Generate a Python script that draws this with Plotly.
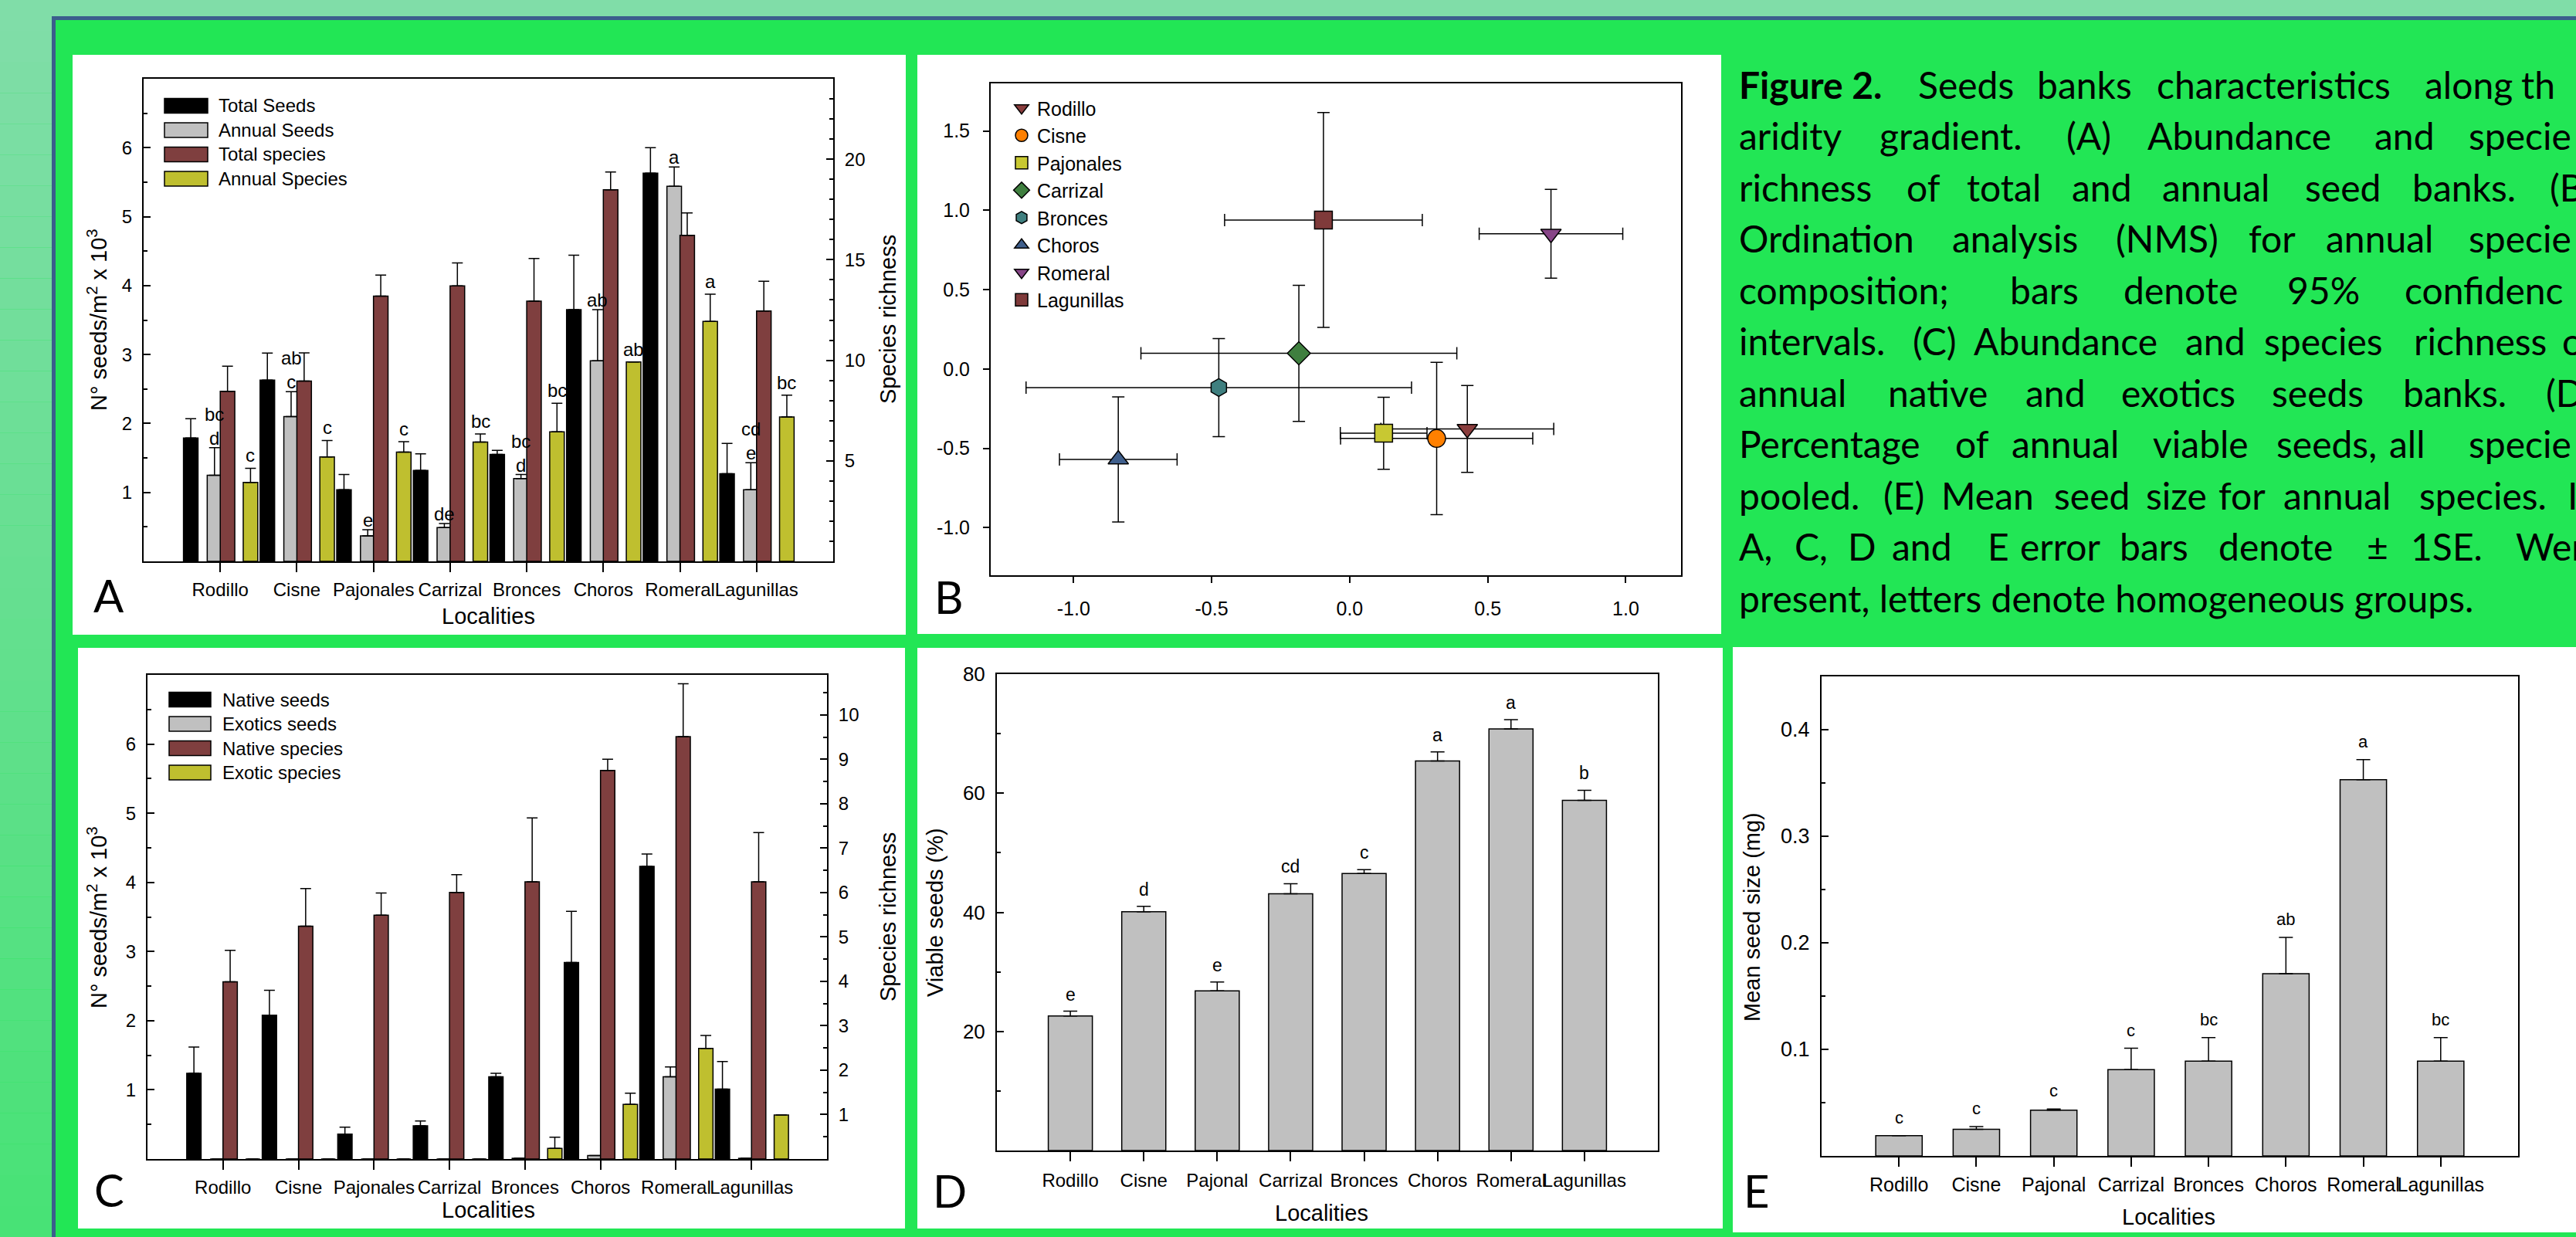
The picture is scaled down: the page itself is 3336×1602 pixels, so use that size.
import plotly.graph_objects as go

W, H = 3336, 1602

# ---------------- data ----------------
localities = ["Rodillo", "Cisne", "Pajonales", "Carrizal", "Bronces", "Choros", "Romeral", "Lagunillas"]
localities_de = ["Rodillo", "Cisne", "Pajonal", "Carrizal", "Bronces", "Choros", "Romeral", "Lagunillas"]
cat_pos = [1, 2, 3, 4, 5, 6, 7, 8]

# Panel A  (seeds: x10^3 per m2, species: richness)
A_total_seeds = [1.79, 2.63, 1.04, 1.32, 1.55, 3.65, 5.63, 1.27]
A_total_seeds_se = [0.28, 0.39, 0.22, 0.24, 0.06, 0.79, 0.37, 0.44]
A_annual_seeds = [1.25, 2.10, 0.37, 0.49, 1.20, 2.91, 5.44, 1.04]
A_annual_seeds_se = [0.40, 0.36, 0.09, 0.06, 0.06, 0.74, 0.28, 0.39]
A_total_species = [8.46, 8.97, 13.19, 13.70, 12.94, 18.48, 16.21, 12.45]
A_total_species_se = [1.25, 1.40, 1.05, 1.14, 2.12, 0.88, 1.12, 1.48]
A_annual_species = [3.93, 5.19, 5.43, 5.93, 6.44, 9.92, 11.93, 7.18]
A_annual_species_se = [0.70, 0.82, 0.52, 0.41, 1.42, 0.0, 1.36, 1.09]
A_total_seed_letters = ["bc", "ab", "", "", "bc", "", "", "cd"]
A_annual_seed_letters = ["d", "c", "e", "de", "d", "ab", "a", "e"]
A_annual_species_letters = ["c", "c", "c", "bc", "bc", "ab", "a", "bc"]
A_legend_labels = ["Total Seeds", "Annual Seeds", "Total species", "Annual Species"]

# Panel B  (NMS ordination, 95% CI)
B_x = [0.426, 0.315, 0.123, -0.184, -0.474, -0.838, 0.729, -0.095]
B_y = [-0.378, -0.438, -0.405, 0.099, -0.117, -0.570, 0.852, 0.939]
B_x_ci = [0.313, 0.348, 0.157, 0.572, 0.698, 0.213, 0.260, 0.358]
B_y_ci = [0.274, 0.480, 0.227, 0.429, 0.309, 0.394, 0.280, 0.677]
B_symbols = ["triangle-down", "circle", "square", "diamond", "hexagon", "triangle-up", "triangle-down", "square"]
B_colors = ["#8A3D3D", "#FF8000", "#C8C832", "#3F7F3F", "#3F7F7F", "#3F5F8C", "#874587", "#7F3A3A"]
B_xticks = [-1.0, -0.5, 0.0, 0.5, 1.0]
B_xticktext = ["-1.0", "-0.5", "0.0", "0.5", "1.0"]
B_yticks = [-1.0, -0.5, 0.0, 0.5, 1.0, 1.5]
B_yticktext = ["-1.0", "-0.5", "0.0", "0.5", "1.0", "1.5"]

# Panel C
C_native_seeds = [1.24, 2.08, 0.36, 0.48, 1.19, 2.84, 4.23, 1.01]
C_native_seeds_se = [0.38, 0.36, 0.10, 0.07, 0.05, 0.74, 0.18, 0.40]
C_exotic_seeds = [0, 0, 0, 0, 0.01, 0.05, 1.19, 0.01]
C_exotic_seeds_se = [0, 0, 0, 0, 0, 0, 0.14, 0]
C_native_species = [3.99, 5.24, 5.49, 6.00, 6.24, 8.75, 9.51, 6.24]
C_native_species_se = [0.71, 0.85, 0.50, 0.40, 1.44, 0.25, 1.19, 1.11]
C_exotic_species = [0, 0, 0, 0, 0.24, 1.23, 2.49, 0.99]
C_exotic_species_se = [0, 0, 0, 0, 0.25, 0.25, 0.29, 0]
C_legend_labels = ["Native seeds", "Exotics seeds", "Native species", "Exotic species"]

# Panel D
D_viable = [22.6, 40.1, 26.8, 43.1, 46.5, 65.4, 70.8, 58.8]
D_viable_se = [0.8, 0.9, 1.5, 1.7, 0.65, 1.55, 1.55, 1.7]
D_letters = ["e", "d", "e", "cd", "c", "a", "a", "b"]

# Panel E
E_seed_size = [0.019, 0.025, 0.043, 0.081, 0.089, 0.171, 0.353, 0.089]
E_seed_size_se = [0.0, 0.0026, 0.0011, 0.020, 0.022, 0.034, 0.019, 0.022]
E_letters = ["c", "c", "c", "c", "bc", "ab", "a", "bc"]

# tick arrays
A_left_ticks = [1, 2, 3, 4, 5, 6]
A_left_minor = [0.5, 1.5, 2.5, 3.5, 4.5, 5.5, 6.5]
A_right_ticks = [5, 10, 15, 20]
A_right_minor = [1, 2, 3, 4, 6, 7, 8, 9, 11, 12, 13, 14, 16, 17, 18, 19, 21, 22, 23]
C_left_ticks = [1, 2, 3, 4, 5, 6]
C_left_minor = [0.5, 1.5, 2.5, 3.5, 4.5, 5.5, 6.5]
C_right_ticks = [1, 2, 3, 4, 5, 6, 7, 8, 9, 10]
C_right_minor = [0.5, 1.5, 2.5, 3.5, 4.5, 5.5, 6.5, 7.5, 8.5, 9.5, 10.5]
D_ticks = [20, 40, 60, 80]
D_minor = [10, 30, 50, 70]
E_ticks = [0.1, 0.2, 0.3, 0.4]
E_ticktext = ["0.1", "0.2", "0.3", "0.4"]
E_minor = [0.05, 0.15, 0.25, 0.35]

# caption (word, left pixel) per justified line
CAPTION = [
    [("<b>Figure 2.</b>", 2250), ("Seeds", 2482), ("banks", 2636), ("characteristics", 2791), ("along", 3138), ("th", 3263)],
    [("aridity", 2250), ("gradient.", 2432), ("(A)", 2674), ("Abundance", 2779), ("and", 3073), ("specie", 3195)],
    [("richness", 2250), ("of", 2467), ("total", 2545), ("and", 2681), ("annual", 2798), ("seed", 2983), ("banks.", 3122), ("(B", 3300)],
    [("Ordination", 2250), ("analysis", 2526), ("(NMS)", 2738), ("for", 2910), ("annual", 3010), ("specie", 3195)],
    [("composition;", 2250), ("bars", 2601), ("denote", 2748), ("95%", 2960), ("confidenc", 3112)],
    [("intervals.", 2250), ("(C)", 2475), ("Abundance", 2554), ("and", 2828), ("species", 2930), ("richness", 3124), ("o", 3316)],
    [("annual", 2250), ("native", 2443), ("and", 2621), ("exotics", 2745), ("seeds", 2940), ("banks.", 3110), ("(D", 3295)],
    [("Percentage", 2250), ("of", 2530), ("annual", 2603), ("viable", 2786), ("seeds,", 2946), ("all", 3092), ("specie", 3195)],
    [("pooled.", 2250), ("(E)", 2437), ("Mean", 2512), ("seed", 2658), ("size", 2777), ("for", 2871), ("annual", 2955), ("species.", 3131), ("I", 3323)],
    [("A,", 2250), ("C,", 2322), ("D", 2391), ("and", 2448), ("E", 2572), ("error", 2614), ("bars", 2743), ("denote", 2871), ("±", 3063), ("1SE.", 3120), ("Wer", 3256)],
    [("present, letters denote homogeneous groups.", 2250)],
]

# ---------------- styles ----------------
GREEN = "#22E655"
TICKFONT = "Liberation Sans"
CAPFONT = "Lato"
BAR_W = 0.19
OFFS = [-0.48, -0.17, 0.0, 0.30]
BAR_COLORS = ["#000000", "#C0C0C0", "#7F3F3F", "#BFBF2F"]


def xp(px):
    return px / W


def yp(py):
    return 1 - py / H


fig = go.Figure()


def err_up(arr, cap=7):
    return dict(type="data", array=arr, arrayminus=[0] * len(arr), symmetric=False,
                color="black", thickness=1.5, width=cap)


def add_bar(xa, ya, vals, errs, color, offset, width, cap=7):
    fig.add_trace(go.Bar(
        x=cat_pos, y=vals, xaxis=xa, yaxis=ya, offset=offset, width=width,
        marker=dict(color=color, line=dict(color="black", width=1.5)),
        error_y=err_up(errs, cap), showlegend=False, hoverinfo="x+y"))


# Panel A bars
add_bar("x", "y", A_total_seeds, A_total_seeds_se, BAR_COLORS[0], OFFS[0], BAR_W)
add_bar("x", "y", A_annual_seeds, A_annual_seeds_se, BAR_COLORS[1], OFFS[1], BAR_W)
add_bar("x", "y2", A_total_species, A_total_species_se, BAR_COLORS[2], OFFS[2], BAR_W)
add_bar("x", "y2", A_annual_species, A_annual_species_se, BAR_COLORS[3], OFFS[3], BAR_W)

# Panel B points
for i, name in enumerate(localities):
    fig.add_trace(go.Scatter(
        x=[B_x[i]], y=[B_y[i]], mode="markers", name=name, xaxis="x2", yaxis="y3",
        marker=dict(symbol=B_symbols[i], size=23, color=B_colors[i], line=dict(color="black", width=1.5)),
        error_x=dict(type="data", array=[B_x_ci[i]], color="black", thickness=1.5, width=8),
        error_y=dict(type="data", array=[B_y_ci[i]], color="black", thickness=1.5, width=8),
        legend="legend2", showlegend=True))

# Panel C bars
add_bar("x3", "y4", C_native_seeds, C_native_seeds_se, BAR_COLORS[0], OFFS[0], BAR_W)
add_bar("x3", "y4", C_exotic_seeds, C_exotic_seeds_se, BAR_COLORS[1], OFFS[1], BAR_W)
add_bar("x3", "y5", C_native_species, C_native_species_se, BAR_COLORS[2], OFFS[2], BAR_W)
add_bar("x3", "y5", C_exotic_species, C_exotic_species_se, BAR_COLORS[3], OFFS[3], BAR_W)

# Panel D, E bars
add_bar("x4", "y6", D_viable, D_viable_se, "#C0C0C0", -0.3, 0.6, cap=9)
add_bar("x5", "y7", E_seed_size, E_seed_size_se, "#C0C0C0", -0.3, 0.6, cap=9)


# ---------------- axes ----------------
def xcat(domain, anchor, ticktext, size=24, standoff=2):
    return dict(domain=domain, anchor=anchor, range=[0, 9], tickmode="array", tickvals=cat_pos,
                ticktext=ticktext, tickangle=0, ticks="outside", ticklen=12, tickwidth=1.5,
                tickcolor="black", showline=True, linecolor="black", linewidth=2, mirror=True,
                showgrid=False, zeroline=False, ticklabelstandoff=standoff, automargin=False,
                tickfont=dict(family=TICKFONT, size=size, color="black"))


def yax(domain, anchor, rng, ticks, minor, ticktext=None, side="left", overlaying=None, size=24,
        standoff=8, mirror=True):
    d = dict(domain=domain, anchor=anchor, range=rng, tickmode="array", tickvals=ticks,
             ticks="inside", ticklen=9, tickwidth=1.5, tickcolor="black",
             minor=dict(tickmode="array", tickvals=minor, ticks="inside", ticklen=5,
                        tickwidth=1.5, tickcolor="black", showgrid=False),
             showline=True, linecolor="black", linewidth=2, mirror=mirror, showgrid=False,
             zeroline=False, side=side, ticklabelstandoff=standoff, automargin=False,
             tickfont=dict(family=TICKFONT, size=size, color="black"))
    if ticktext is not None:
        d["ticktext"] = ticktext
    if overlaying:
        d["overlaying"] = overlaying
    return d


A_xd = [xp(186), xp(1079)]
A_yd = [yp(727), yp(102)]
B_xd = [xp(1283), xp(2177)]
B_yd = [yp(745), yp(108)]
C_xd = [xp(191), xp(1071)]
C_yd = [yp(1501), yp(874)]
D_xd = [xp(1291), xp(2147)]
D_yd = [yp(1490), yp(873)]
E_xd = [xp(2359), xp(3261)]
E_yd = [yp(1497), yp(876)]

b_axis_common = dict(ticks="outside", ticklen=8, tickwidth=1.5, tickcolor="black", tickmode="array",
                     showline=True, linecolor="black", linewidth=2, mirror=True, showgrid=False,
                     zeroline=False, ticklabelstandoff=12, automargin=False,
                     tickfont=dict(family=TICKFONT, size=25, color="black"))

layout = dict(
    width=W, height=H, margin=dict(l=0, r=0, t=0, b=0, autoexpand=False), autosize=False,
    paper_bgcolor=GREEN, plot_bgcolor="white", barmode="overlay", showlegend=True,
    xaxis=xcat(A_xd, "y", localities),
    yaxis=yax(A_yd, "x", [0, 7], A_left_ticks, A_left_minor),
    yaxis2=yax(A_yd, "x", [0, 24], A_right_ticks, A_right_minor, side="right", overlaying="y", mirror=False),
    xaxis2=dict(domain=B_xd, anchor="y3", range=[-1.3, 1.2], tickvals=B_xticks, ticktext=B_xticktext,
                **b_axis_common),
    yaxis3=dict(domain=B_yd, anchor="x2", range=[-1.3, 1.8], tickvals=B_yticks, ticktext=B_yticktext,
                **b_axis_common),
    xaxis3=xcat(C_xd, "y4", localities),
    yaxis4=yax(C_yd, "x3", [0, 7], C_left_ticks, C_left_minor),
    yaxis5=yax(C_yd, "x3", [0, 10.9], C_right_ticks, C_right_minor, side="right", overlaying="y4", mirror=False),
    xaxis4=xcat(D_xd, "y6", localities_de, size=24, standoff=4),
    yaxis6=yax(D_yd, "x4", [0, 80], D_ticks, D_minor, size=26),
    xaxis5=xcat(E_xd, "y7", localities_de, size=25, standoff=2),
    yaxis7=yax(E_yd, "x5", [0, 0.45], E_ticks, E_minor, ticktext=E_ticktext, size=27),
    legend2=dict(x=xp(1303), y=yp(117), xanchor="left", yanchor="top", bgcolor="rgba(0,0,0,0)",
                 borderwidth=0, font=dict(family=TICKFONT, size=25, color="black"),
                 itemsizing="trace", tracegroupgap=0),
)
fig.update_layout(**layout)

# ---------------- decorations ----------------
shapes = []
# left gradient strip
top_rgb = (128, 221, 168)
bot_rgb = (72, 226, 118)
nb = 40
for k in range(nb):
    t = k / (nb - 1)
    c = tuple(round(top_rgb[j] + (bot_rgb[j] - top_rgb[j]) * t) for j in range(3))
    y0 = H * k / nb
    y1 = H * (k + 1) / nb
    shapes.append(dict(type="rect", xref="paper", yref="paper", x0=xp(0), x1=xp(67),
                       y0=yp(y1), y1=yp(y0), fillcolor="rgb(%d,%d,%d)" % c, line=dict(width=0), layer="below"))
shapes.append(dict(type="rect", xref="paper", yref="paper", x0=xp(0), x1=xp(W), y0=yp(21), y1=yp(0),
                   fillcolor="rgb(128,221,168)", line=dict(width=0), layer="below"))
# blue frame lines
shapes.append(dict(type="rect", xref="paper", yref="paper", x0=xp(67), x1=xp(72), y0=yp(H), y1=yp(21),
                   fillcolor="#3B5E8C", line=dict(width=0), layer="below"))
shapes.append(dict(type="rect", xref="paper", yref="paper", x0=xp(67), x1=xp(W), y0=yp(26), y1=yp(21),
                   fillcolor="#3B5E8C", line=dict(width=0), layer="below"))
# white panels
for (x0, y0, x1, y1) in [(94, 71, 1173, 822), (1188, 71, 2229, 821), (101, 839, 1172, 1591),
                         (1188, 839, 2231, 1591), (2244, 838, W, 1596)]:
    shapes.append(dict(type="rect", xref="paper", yref="paper", x0=xp(x0), x1=xp(x1), y0=yp(y1), y1=yp(y0),
                       fillcolor="white", line=dict(width=0), layer="below"))

annotations = []


# custom legends for A and C
def custom_legend(labels, sx0, sx1, ytop_center, text_x):
    for k, lab in enumerate(labels):
        yc = ytop_center + 31.5 * k
        shapes.append(dict(type="rect", xref="paper", yref="paper", x0=xp(sx0), x1=xp(sx1),
                           y0=yp(yc + 9.5), y1=yp(yc - 9.5), fillcolor=BAR_COLORS[k],
                           line=dict(color="black", width=1.5), layer="above"))
        annotations.append(dict(xref="paper", yref="paper", x=xp(text_x), y=yp(yc), text=lab,
                                showarrow=False, xanchor="left", yanchor="middle",
                                font=dict(family=TICKFONT, size=24, color="black")))


custom_legend(A_legend_labels, 213, 269, 137, 281)
custom_legend(C_legend_labels, 219, 273, 906, 286)

# significance letters
for i in range(8):
    gx = cat_pos[i] + OFFS[1] + BAR_W / 2
    txt = (A_total_seed_letters[i] + "<br>" if A_total_seed_letters[i] else "") + A_annual_seed_letters[i]
    annotations.append(dict(xref="x", yref="y", x=gx, y=A_annual_seeds[i] + A_annual_seeds_se[i], text=txt,
                            showarrow=False, xanchor="center", yanchor="bottom", yshift=-3,
                            font=dict(family=TICKFONT, size=24, color="black")))
    yx = cat_pos[i] + OFFS[3] + BAR_W / 2
    annotations.append(dict(xref="x", yref="y2", x=yx, y=A_annual_species[i] + A_annual_species_se[i],
                            text=A_annual_species_letters[i], showarrow=False, xanchor="center",
                            yanchor="bottom", yshift=1, font=dict(family=TICKFONT, size=24, color="black")))
    annotations.append(dict(xref="x4", yref="y6", x=cat_pos[i], y=D_viable[i] + D_viable_se[i],
                            text=D_letters[i], showarrow=False, xanchor="center", yanchor="bottom",
                            yshift=7, font=dict(family=TICKFONT, size=23, color="black")))
    annotations.append(dict(xref="x5", yref="y7", x=cat_pos[i], y=E_seed_size[i] + E_seed_size_se[i],
                            text=E_letters[i], showarrow=False, xanchor="center", yanchor="bottom",
                            yshift=9, font=dict(family=TICKFONT, size=22, color="black")))


# axis titles
def title_ann(x, y, text, angle=0, size=29):
    annotations.append(dict(xref="paper", yref="paper", x=xp(x), y=yp(y), text=text, showarrow=False,
                            xanchor="center", yanchor="middle", textangle=angle,
                            font=dict(family=TICKFONT, size=size, color="black")))


ylab_seeds = "N° seeds/m<sup>2</sup> x 10<sup>3</sup>"
title_ann(126, 414, ylab_seeds, -90)
title_ann(1150, 414, "Species richness", -90)
title_ann(632, 798, "Localities")
title_ann(126, 1188, ylab_seeds, -90)
title_ann(1150, 1188, "Species richness", -90)
title_ann(632, 1567, "Localities")
title_ann(1211, 1182, "Viable seeds (%)", -90)
title_ann(1711, 1571, "Localities")
title_ann(2269, 1188, "Mean seed size (mg)", -90)
title_ann(2808, 1576, "Localities")

# panel letters
for lab, (x, y) in zip(["A", "B", "C", "D", "E"],
                       [(141, 771), (1229, 773), (141, 1540), (1230, 1541), (2275, 1541)]):
    annotations.append(dict(xref="paper", yref="paper", x=xp(x), y=yp(y), text=lab, showarrow=False,
                            xanchor="center", yanchor="middle",
                            font=dict(family=CAPFONT, size=58, color="black")))

# caption
for k, line in enumerate(CAPTION):
    yc = 109 + 66.5 * k
    for word, x in line:
        annotations.append(dict(xref="paper", yref="paper", x=xp(x), y=yp(yc), text=word, showarrow=False,
                                xanchor="left", yanchor="middle",
                                font=dict(family=CAPFONT, size=48, color="black")))

fig.update_layout(shapes=shapes, annotations=annotations)

fig.write_html("out.html", config={"displayModeBar": False},
               post_script="document.body.style.margin='0';document.body.style.overflow='hidden';")
